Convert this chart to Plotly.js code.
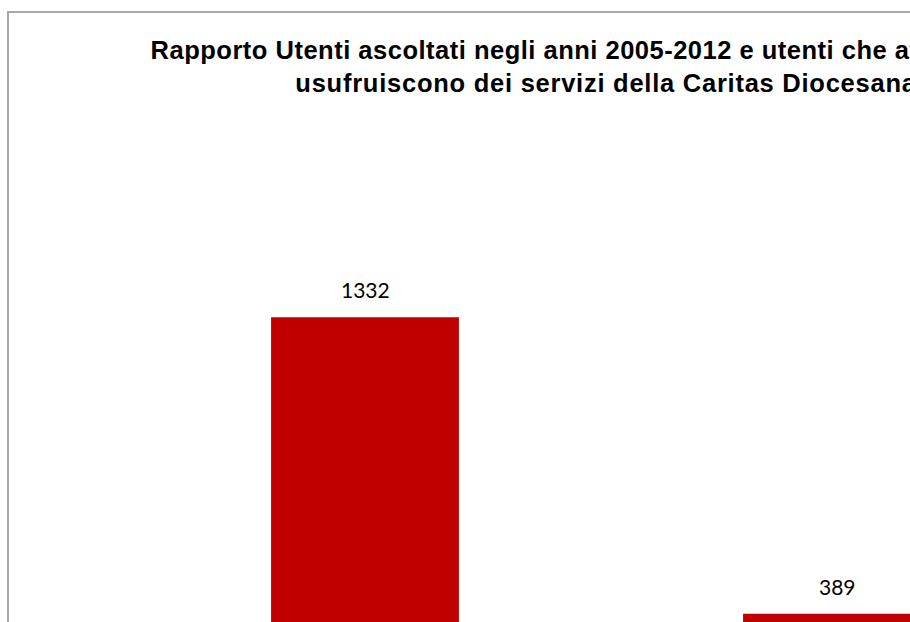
<!DOCTYPE html>
<html>
<head>
<meta charset="utf-8">
<script src="https://cdn.plot.ly/plotly-3.0.1.min.js"></script>
<style>
  html, body { margin: 0; padding: 0; overflow: hidden; background: #ffffff; width: 910px; height: 622px; }
  #frame { position: absolute; left: 7px; top: 11px; border: 2px solid #a8a8a8; width: 1190px; height: 800px; }
  #chart { width: 1190px; height: 800px; }
  .gtitle { letter-spacing: 0.5px; }
</style>
</head>
<body>
<div id="frame"><div id="chart"></div></div>
<script>
// Data
var categories = ["Utenti ascoltati 2005-2012", "Utenti che attualmente usufruiscono dei servizi"];
var values = [1332, 389];
var valueLabels = ["1332", "389"];

var trace = {
  type: "bar",
  x: categories,
  y: values,
  marker: { color: "#c00000" },
  hoverinfo: "x+y"
};

var annotations = categories.map(function (c, i) {
  return {
    x: c, y: values[i], xref: "x", yref: "y",
    text: valueLabels[i], showarrow: false,
    yanchor: "bottom", yshift: 13,
    font: { family: "Lato, 'Open Sans', sans-serif", size: 21, color: "#000000" }
  };
});

var titleLine1 = "Rapporto Utenti ascoltati negli anni 2005-2012 e utenti che a<span style=\"letter-spacing:2.3px\">ttualmente</span>";
var titleLine2 = "<span style=\"letter-spacing:0.75px\">usufruiscono dei servizi della Caritas Diocesana</span>";

var layout = {
  width: 1190,
  height: 800,
  margin: { l: 120, r: 126, t: 283, b: 77 },
  paper_bgcolor: "#ffffff",
  plot_bgcolor: "#ffffff",
  bargap: 0.602,
  showlegend: false,
  title: {
    text: "<b>" + titleLine1 + "<br>" + titleLine2 + "</b>",
    font: { family: "'Liberation Sans', Arial, sans-serif", size: 25.5, color: "#000000" },
    x: 0.5017, xref: "container", xanchor: "center",
    y: 1 - 46 / 800, yref: "container", yanchor: "top"
  },
  xaxis: {
    type: "category",
    range: [-0.5, 1.5],
    showgrid: false, zeroline: false, showline: false,
    showticklabels: false, ticks: ""
  },
  yaxis: {
    range: [0, 1400],
    showgrid: false, zeroline: false, showline: false,
    showticklabels: false, ticks: ""
  },
  annotations: annotations
};

Plotly.newPlot("chart", [trace], layout, { displayModeBar: false });
</script>
</body>
</html>
